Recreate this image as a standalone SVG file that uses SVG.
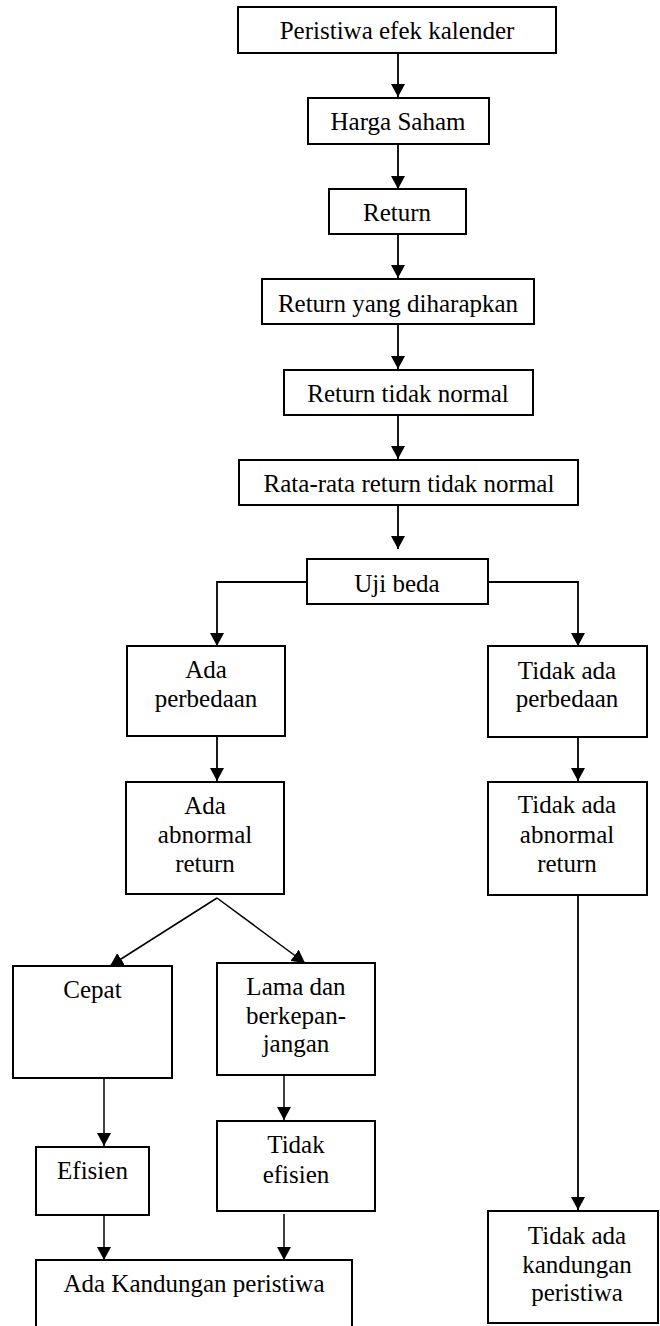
<svg xmlns="http://www.w3.org/2000/svg" width="660" height="1326" viewBox="0 0 660 1326">
<style>
  .box { fill: #ffffff; stroke: #000000; stroke-width: 2; }
  .lbl { font-family: "Liberation Serif", "Times New Roman", serif; font-size: 25px; fill: #000000; text-anchor: middle; }
  .conn { fill: none; stroke: #000000; stroke-width: 1.8; marker-end: url(#arrow); }
  .thin { stroke-width: 1.5; }
</style>
<defs>
  <marker id="arrow" markerUnits="userSpaceOnUse" markerWidth="14" markerHeight="14" viewBox="0 0 14 14" refX="13" refY="7" orient="auto">
    <path d="M0,0 L13,7 L0,14 Z" fill="#000000"/>
  </marker>
</defs>
<rect width="660" height="1326" fill="#ffffff"/>

<g id="connectors">
  <line class="conn" x1="398" y1="53" x2="398" y2="97"/>
  <line class="conn" x1="398" y1="144" x2="398" y2="189"/>
  <line class="conn" x1="398" y1="234" x2="398" y2="278"/>
  <line class="conn" x1="398" y1="324" x2="398" y2="369"/>
  <line class="conn" x1="398" y1="415" x2="398" y2="459"/>
  <line class="conn" x1="398" y1="505" x2="398" y2="549"/>
  <polyline class="conn" points="307,582 217,582 217,646"/>
  <polyline class="conn" points="488,582 578,582 578,646"/>
  <line class="conn" x1="217" y1="736" x2="217" y2="781"/>
  <line class="conn" x1="578" y1="737" x2="578" y2="781"/>
  <line class="conn thin" x1="217" y1="898" x2="110" y2="966"/>
  <line class="conn thin" x1="217" y1="898" x2="305" y2="963"/>
  <line class="conn thin" x1="104" y1="1078" x2="104" y2="1146"/>
  <line class="conn thin" x1="284" y1="1075" x2="284" y2="1120"/>
  <line class="conn" x1="578" y1="895" x2="578" y2="1210"/>
  <line class="conn thin" x1="104" y1="1215" x2="104" y2="1260"/>
  <line class="conn thin" x1="284" y1="1214" x2="284" y2="1260"/>
</g>

<g id="n-peristiwa">
  <rect class="box" x="238" y="7" width="318" height="46"/>
  <text class="lbl" x="397" y="39">Peristiwa efek kalender</text>
</g>
<g id="n-harga">
  <rect class="box" x="308" y="98" width="181" height="46"/>
  <text class="lbl" x="398" y="130">Harga Saham</text>
</g>
<g id="n-return">
  <rect class="box" x="329" y="189" width="137" height="45"/>
  <text class="lbl" x="397" y="221">Return</text>
</g>
<g id="n-diharapkan">
  <rect class="box" x="262" y="279" width="272" height="45"/>
  <text class="lbl" x="398" y="312">Return yang diharapkan</text>
</g>
<g id="n-tidaknormal">
  <rect class="box" x="284" y="370" width="249" height="45"/>
  <text class="lbl" x="408" y="402">Return tidak normal</text>
</g>
<g id="n-ratarata">
  <rect class="box" x="239" y="460" width="339" height="45"/>
  <text class="lbl" x="409" y="492">Rata-rata return tidak normal</text>
</g>
<g id="n-ujibeda">
  <rect class="box" x="307" y="559" width="181" height="45"/>
  <text class="lbl" x="397" y="592">Uji beda</text>
</g>
<g id="n-adaperbedaan">
  <rect class="box" x="127" y="646" width="158" height="90"/>
  <text class="lbl" x="206" y="678">Ada</text>
  <text class="lbl" x="206" y="707">perbedaan</text>
</g>
<g id="n-tidakperbedaan">
  <rect class="box" x="488" y="646" width="159" height="91"/>
  <text class="lbl" x="567" y="679">Tidak ada</text>
  <text class="lbl" x="567" y="707">perbedaan</text>
</g>
<g id="n-adaabnormal">
  <rect class="box" x="126" y="782" width="158" height="112"/>
  <text class="lbl" x="205" y="814">Ada</text>
  <text class="lbl" x="205" y="843">abnormal</text>
  <text class="lbl" x="205" y="872">return</text>
</g>
<g id="n-tidakabnormal">
  <rect class="box" x="488" y="782" width="159" height="113"/>
  <text class="lbl" x="567" y="813">Tidak ada</text>
  <text class="lbl" x="567" y="843">abnormal</text>
  <text class="lbl" x="567" y="872">return</text>
</g>
<g id="n-cepat">
  <rect class="box" x="13" y="966" width="159" height="112"/>
  <text class="lbl" x="92.5" y="998">Cepat</text>
</g>
<g id="n-lama">
  <rect class="box" x="217" y="963" width="158" height="112"/>
  <text class="lbl" x="296" y="995">Lama dan</text>
  <text class="lbl" x="296" y="1023.5">berkepan-</text>
  <text class="lbl" x="296" y="1052">jangan</text>
</g>
<g id="n-efisien">
  <rect class="box" x="36" y="1147" width="113" height="68"/>
  <text class="lbl" x="92.5" y="1179">Efisien</text>
</g>
<g id="n-tidakefisien">
  <rect class="box" x="217" y="1121" width="158" height="90"/>
  <text class="lbl" x="296" y="1153">Tidak</text>
  <text class="lbl" x="296" y="1182.5">efisien</text>
</g>
<g id="n-adakandungan">
  <rect class="box" x="36" y="1260" width="316" height="80"/>
  <text class="lbl" x="194" y="1292">Ada Kandungan peristiwa</text>
</g>
<g id="n-tidakkandungan">
  <rect class="box" x="488" y="1211" width="170" height="112"/>
  <text class="lbl" x="577" y="1244">Tidak ada</text>
  <text class="lbl" x="577" y="1273">kandungan</text>
  <text class="lbl" x="577" y="1301">peristiwa</text>
</g>
</svg>
